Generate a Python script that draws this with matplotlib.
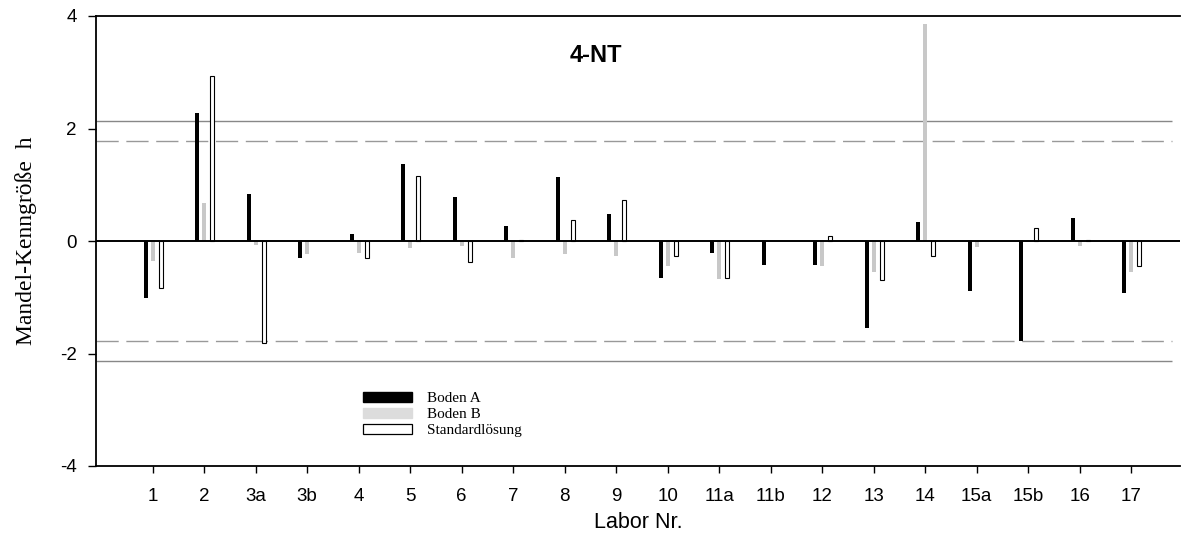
import numpy as np
import matplotlib
matplotlib.use("Agg")
import matplotlib.pyplot as plt
from matplotlib.patches import Patch

# Mandel h statistics per laboratory
labs = ['1', '2', '3a', '3b', '4', '5', '6', '7', '8', '9', '10',
        '11a', '11b', '12', '13', '14', '15a', '15b', '16', '17']
boden_a = [-1.02, 2.28, 0.83, -0.31, 0.12, 1.37, 0.79, 0.27, 1.14, 0.48, -0.66,
           -0.21, -0.42, -0.42, -1.54, 0.33, -0.88, -1.77, 0.41, -0.92]
boden_b = [-0.35, 0.67, -0.07, -0.23, -0.21, -0.13, -0.08, -0.30, -0.23, -0.27, -0.44,
           -0.68, np.nan, -0.44, -0.55, 3.86, -0.11, np.nan, -0.09, -0.55]
standard = [-0.84, 2.93, -1.81, np.nan, -0.31, 1.15, -0.38, 0.02, 0.38, 0.73, -0.27,
            -0.65, np.nan, 0.09, -0.69, -0.27, np.nan, 0.24, 0.02, -0.44]

# critical h values (1 % and 5 %)
h_crit_1 = 2.13
h_crit_5 = 1.78

y_ticks = [-4, -2, 0, 2, 4]

sans = ['Liberation Sans', 'DejaVu Sans']
serif = ['Liberation Serif', 'DejaVu Serif']

fig = plt.figure(figsize=(11.85, 5.38), dpi=100)
ax = fig.add_axes([96 / 1185, 1 - 466 / 538, (1180 - 96) / 1185, 450 / 538])

x = np.arange(len(labs))
w = 0.078
ax.bar(x - 0.135, boden_a, width=w, color='black', zorder=2)
ax.bar(x, boden_b, width=w, color='#c8c8c8', zorder=2)
ax.bar(x + 0.155, standard, width=w, color='white', edgecolor='black',
       linewidth=0.8, zorder=2)

ax.set_xlim(-1.1, 19.95)
ax.set_ylim(-4, 4)

ax.axhline(0, color='black', lw=1.4, zorder=3)
for v in (h_crit_1, -h_crit_1):
    ax.hlines(v, -1.1, 19.8, color='#888888', lw=1.0, zorder=1)
for v in (h_crit_5, -h_crit_5):
    ax.hlines(v, -1.1, 19.8, color='#999999', lw=1.0, zorder=1,
              linestyles=(0, (16, 5.5)))

ax.spines['right'].set_visible(False)
for s in ('left', 'top', 'bottom'):
    ax.spines[s].set_linewidth(1.3)

ax.set_xticks(x)
ax.set_xticklabels(labs, family=sans, fontsize=13.5)
ax.set_yticks(y_ticks)
ax.set_yticklabels([str(t) for t in y_ticks], family=sans, fontsize=13.5)
ax.tick_params(axis='x', direction='out', length=5, width=1, pad=11)
ax.tick_params(axis='y', direction='out', length=6, width=1, pad=8)

ax.set_xlabel('Labor Nr.', family=sans, fontsize=15.5, labelpad=5)
ax.set_ylabel('Mandel-Kenngröße  h', family=serif, fontsize=17, labelpad=16)

ax.text(0.461, 0.913, '4-NT', transform=ax.transAxes, ha='center',
        va='center', family=sans, fontsize=17, fontweight='bold')

handles = [Patch(facecolor='black', edgecolor='black'),
           Patch(facecolor='#dcdcdc', edgecolor='#dcdcdc'),
           Patch(facecolor='white', edgecolor='black', linewidth=0.9)]
ax.legend(handles, ['Boden A', 'Boden B', 'Standardlösung'],
          loc='upper left', bbox_to_anchor=(363 / 1185, 1 - 392 / 538),
          bbox_transform=fig.transFigure, frameon=False, borderpad=0,
          borderaxespad=0, handlelength=3.2, handleheight=0.6,
          labelspacing=0.18, handletextpad=1.0,
          prop={'family': serif, 'size': 11})

fig.savefig('out.png', dpi=100)
